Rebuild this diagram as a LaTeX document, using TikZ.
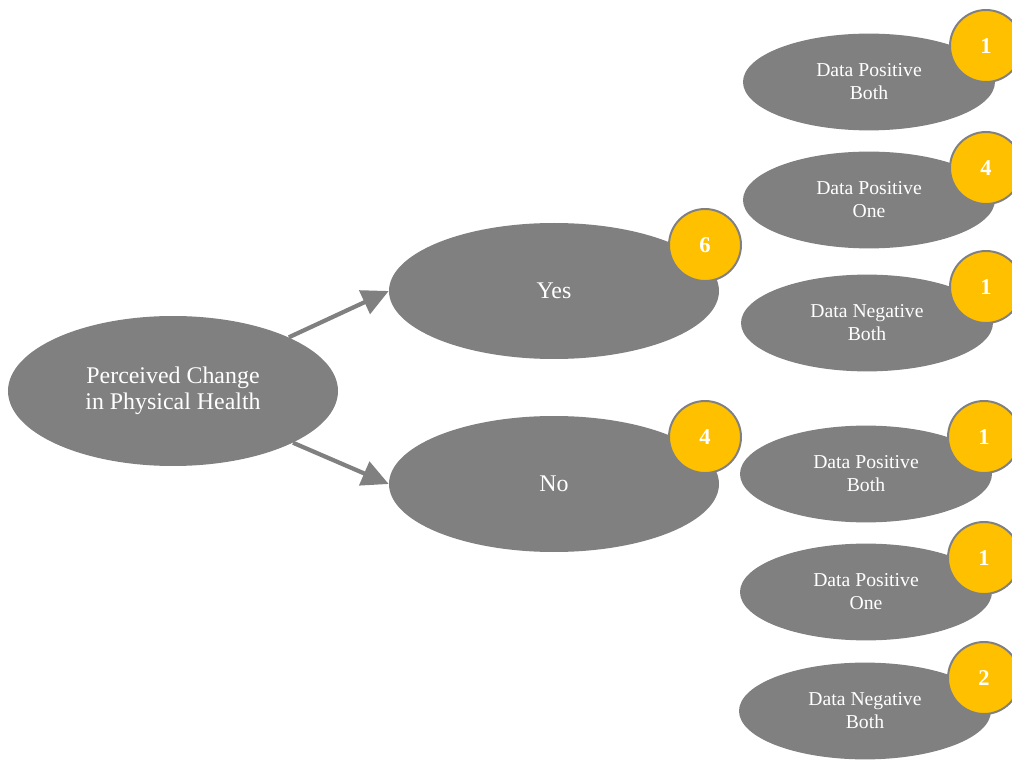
\documentclass[tikz,border=0pt]{standalone}
\usepackage{tikz}
\usetikzlibrary{arrows.meta,shapes.geometric}
\usepackage{fontspec}
\setmainfont{Liberation Serif}
\definecolor{nodegray}{HTML}{808080}
\definecolor{badgeyellow}{HTML}{FFC000}

\begin{document}
\begin{tikzpicture}[
				big/.style={ellipse, fill=nodegray, text=white, minimum width=8.25cm, minimum height=3.4cm, align=center, font=\fontsize{17}{18.5}\selectfont},
				leaf/.style={ellipse, fill=nodegray, text=white, minimum width=6.3cm, minimum height=2.42cm, align=center, font=\fontsize{14}{16.4}\selectfont},
				badge/.style={circle, fill=badgeyellow, draw=nodegray, line width=1.4pt, minimum size=1.8cm, text=white, font=\fontsize{16}{18}\selectfont\bfseries},
				link/.style={-{Triangle[length=19pt, width=18pt]}, draw=nodegray, line width=3pt}
				]
				\useasboundingbox (0,0) rectangle (25.3,-19);
				\node[big, minimum height=3.75cm] (root) at (4.325,-9.775) {Perceived Change\\in Physical Health};
				\node[big] (yes) at (13.85,-7.275) {Yes};
				\node[big] (no) at (13.85,-12.1) {No};
				\node[badge] (nyes) at (17.625,-6.125) {6};
				\node[badge] (nno) at (17.625,-10.925) {4};
				\node[leaf] (ypb) at (21.725,-2.05) {Data Positive\\Both};
				\node[leaf] (ypo) at (21.725,-5.0) {Data Positive\\One};
				\node[leaf] (ynb) at (21.675,-8.075) {Data Negative\\Both};
				\node[leaf] (npb) at (21.65,-11.85) {Data Positive\\Both};
				\node[leaf] (npo) at (21.65,-14.8) {Data Positive\\One};
				\node[leaf] (nnb) at (21.625,-17.775) {Data Negative\\Both};
				\node[badge] (nypb) at (24.65,-1.15) {1};
				\node[badge] (nypo) at (24.65,-4.2) {4};
				\node[badge] (nynb) at (24.65,-7.175) {1};
				\node[badge] (nnpb) at (24.6,-10.925) {1};
				\node[badge] (nnpo) at (24.6,-13.95) {1};
				\node[badge] (nnnb) at (24.6,-16.95) {2};
				\draw[link] (root) -- (yes.west);
				\draw[link] (root) -- (no.west);
			\end{tikzpicture}
\end{document}
